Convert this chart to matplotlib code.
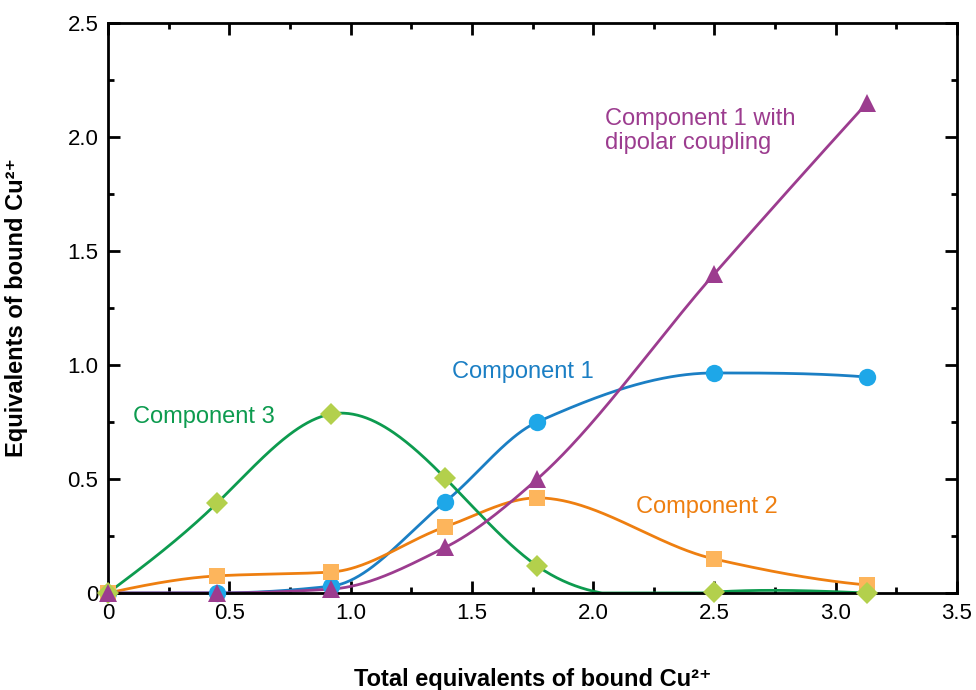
import numpy as np
import matplotlib
matplotlib.use("Agg")
import matplotlib.pyplot as plt
from matplotlib.ticker import MultipleLocator, FuncFormatter

# Titration data: equivalents of each EPR component vs total bound Cu2+
total_cu = [0.0, 0.45, 0.92, 1.39, 1.77, 2.50, 3.13]
component1 = [0.0, 0.0, 0.03, 0.40, 0.75, 0.965, 0.947]
component2 = [0.0, 0.075, 0.092, 0.29, 0.417, 0.149, 0.035]
component3 = [0.0, 0.395, 0.785, 0.504, 0.118, 0.004, 0.0]
component1_dipolar = [0.0, 0.0, 0.017, 0.20, 0.50, 1.40, 2.15]

x_ticks = [0, 0.5, 1.0, 1.5, 2.0, 2.5, 3.0, 3.5]
y_ticks = [0, 0.5, 1.0, 1.5, 2.0, 2.5]

FONT = ["Liberation Sans", "DejaVu Sans"]
plt.rcParams["font.family"] = FONT


def pchip(x, y, xs):
    """Shape-preserving piecewise cubic Hermite curve through (x, y)."""
    x = np.asarray(x, float)
    y = np.asarray(y, float)
    h = np.diff(x)
    delta = np.diff(y) / h
    n = len(x)
    d = np.zeros(n)
    for k in range(1, n - 1):
        if delta[k - 1] * delta[k] > 0:
            w1 = 2 * h[k] + h[k - 1]
            w2 = h[k] + 2 * h[k - 1]
            d[k] = (w1 + w2) / (w1 / delta[k - 1] + w2 / delta[k])
    def end(h0, h1, d0, d1):
        v = ((2 * h0 + h1) * d0 - h0 * d1) / (h0 + h1)
        if np.sign(v) != np.sign(d0):
            v = 0.0
        elif np.sign(d0) != np.sign(d1) and abs(v) > abs(3 * d0):
            v = 3 * d0
        return v
    d[0] = end(h[0], h[1], delta[0], delta[1])
    d[-1] = end(h[-1], h[-2], delta[-1], delta[-2])
    idx = np.clip(np.searchsorted(x, xs) - 1, 0, n - 2)
    t = (xs - x[idx]) / h[idx]
    h00 = 2 * t**3 - 3 * t**2 + 1
    h10 = t**3 - 2 * t**2 + t
    h01 = -2 * t**3 + 3 * t**2
    h11 = t**3 - t**2
    return (h00 * y[idx] + h10 * h[idx] * d[idx]
            + h01 * y[idx + 1] + h11 * h[idx] * d[idx + 1])


def natural_spline(x, y, xs):
    """Natural cubic spline through (x, y), floored at zero."""
    x = np.asarray(x, float)
    y = np.asarray(y, float)
    n = len(x)
    h = np.diff(x)
    A = np.zeros((n, n))
    b = np.zeros(n)
    A[0, 0] = A[-1, -1] = 1.0
    for i in range(1, n - 1):
        A[i, i - 1] = h[i - 1]
        A[i, i] = 2 * (h[i - 1] + h[i])
        A[i, i + 1] = h[i]
        b[i] = 6 * ((y[i + 1] - y[i]) / h[i] - (y[i] - y[i - 1]) / h[i - 1])
    M = np.linalg.solve(A, b)
    idx = np.clip(np.searchsorted(x, xs) - 1, 0, n - 2)
    hi = h[idx]
    a = x[idx + 1] - xs
    c = xs - x[idx]
    out = (M[idx] * a**3 / (6 * hi) + M[idx + 1] * c**3 / (6 * hi)
           + (y[idx] / hi - M[idx] * hi / 6) * a
           + (y[idx + 1] / hi - M[idx + 1] * hi / 6) * c)
    return np.maximum(out, 0.0)


fig = plt.figure(figsize=(9.76, 6.9), dpi=100)
ax = fig.add_axes([0.1107, 0.1406, 0.8698, 0.8261])

series = [
    (component1, pchip, "#1b7fc4", "#1ea7e8", "o", 12.5),
    (component2, pchip, "#ee7f10", "#fdb55c", "s", 12.0),
    (component3, natural_spline, "#0d9b4f", "#b3d04c", "D", 11.0),
    (component1_dipolar, pchip, "#9c3c8f", "#9c3c8f", "^", 13.0),
]

xs = np.linspace(total_cu[0], total_cu[-1], 500)
for vals, curve, lc, _, _, _ in series:
    ax.plot(xs, curve(total_cu, vals, xs), color=lc, lw=2.0, zorder=2,
            clip_on=False)
for i, (vals, _, _, mc, mk, ms) in enumerate(series):
    ax.plot(total_cu, vals, linestyle="none", marker=mk, ms=ms, color=mc,
            markeredgewidth=0, zorder=3 + i, clip_on=False)

ax.set_xlim(0, 3.5)
ax.set_ylim(0, 2.5)
ax.set_xticks(x_ticks)
ax.set_yticks(y_ticks)
fmt = FuncFormatter(lambda v, p: "0" if v == 0 else f"{v:.1f}")
ax.xaxis.set_major_formatter(fmt)
ax.yaxis.set_major_formatter(fmt)
ax.xaxis.set_minor_locator(MultipleLocator(0.25))
ax.yaxis.set_minor_locator(MultipleLocator(0.25))
ax.tick_params(which="both", direction="in", top=True, right=True,
               width=2.0, labelsize=16, colors="black")
ax.tick_params(which="major", length=8.5, pad=7)
ax.tick_params(which="minor", length=4.5)
for s in ax.spines.values():
    s.set_linewidth(2.0)

ax.set_xlabel("Total equivalents of bound Cu²⁺", fontsize=17,
              fontweight="bold", labelpad=32)
ax.set_ylabel("Equivalents of bound Cu²⁺", fontsize=17,
              fontweight="bold", labelpad=28)

ax.text(1.418, 0.969, "Component 1", color="#1b7fc4", fontsize=17,
        va="center", ha="left")
ax.text(0.103, 0.772, "Component 3", color="#0d9b4f", fontsize=17,
        va="center", ha="left")
ax.text(2.176, 0.377, "Component 2", color="#ee7f10", fontsize=17,
        va="center", ha="left")
ax.text(2.049, 2.025, "Component 1 with\ndipolar coupling", color="#9c3c8f",
        fontsize=17, va="center", ha="left", linespacing=1.13)

fig.savefig("out.png", dpi=100)
